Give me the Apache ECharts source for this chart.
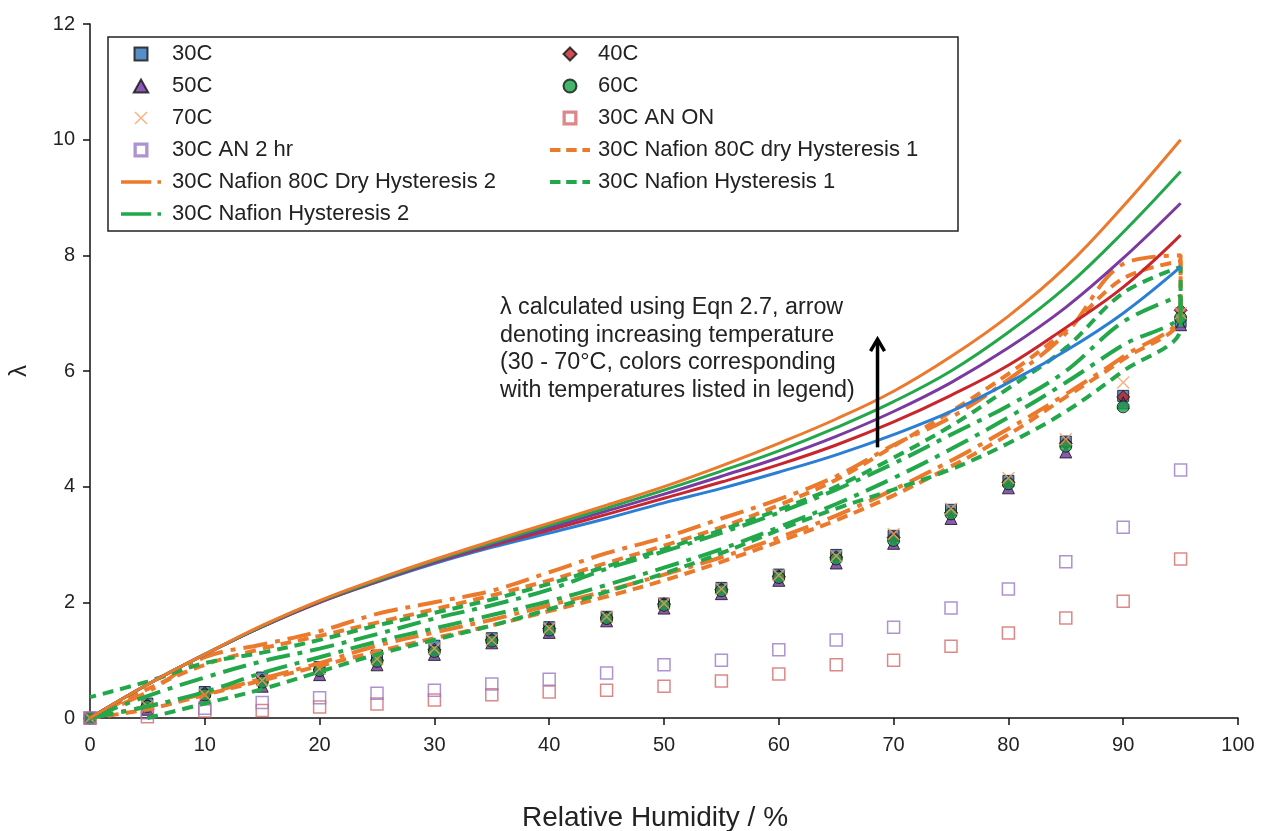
<!DOCTYPE html>
<html><head><meta charset="utf-8">
<script src="https://cdn.jsdelivr.net/npm/echarts@6/dist/echarts.min.js"></script>
<style>html,body{margin:0;padding:0;background:#fff}#c{width:1261px;height:831px}</style>
</head><body><div id="c"></div>
<script>
// ---------- data ----------
const RH = [0,5,10,15,20,25,30,35,40,45,50,55,60,65,70,75,80,85,90,95];
const T30C = [0,0.25,0.45,0.70,0.88,1.08,1.25,1.38,1.57,1.75,1.98,2.25,2.48,2.82,3.15,3.60,4.10,4.78,5.57,6.85];
const T40C = [0,0.22,0.43,0.65,0.83,1.00,1.18,1.35,1.55,1.73,1.97,2.22,2.45,2.78,3.12,3.55,4.07,4.75,5.55,7.05];
const T50C = [0,0.15,0.35,0.55,0.75,0.92,1.10,1.30,1.48,1.68,1.90,2.15,2.38,2.68,3.02,3.45,3.98,4.60,5.45,6.80];
const T60C = [0,0.20,0.40,0.62,0.82,0.98,1.15,1.33,1.52,1.72,1.95,2.20,2.43,2.75,3.07,3.53,4.05,4.70,5.38,6.92];
const T70C = [0,0.20,0.40,0.65,0.85,1.02,1.20,1.35,1.55,1.75,1.98,2.23,2.47,2.80,3.18,3.62,4.15,4.82,5.80,7.00];
const AN_ON = [0,0.02,0.12,0.13,0.19,0.24,0.31,0.40,0.45,0.48,0.55,0.64,0.76,0.92,1.00,1.24,1.47,1.73,2.02,2.75];
const AN_2HR = [0,0.09,0.17,0.27,0.35,0.43,0.48,0.59,0.67,0.78,0.92,1.00,1.18,1.35,1.57,1.90,2.23,2.70,3.30,4.29];

// Eqn 2.7 curves (30,40,50,60,70 C)
const EQ30 = [0,0.58,1.10,1.58,2.00,2.35,2.67,2.95,3.20,3.45,3.72,3.97,4.25,4.55,4.90,5.30,5.80,6.35,7.00,7.80];
const EQ40 = [0,0.58,1.10,1.58,2.00,2.36,2.69,2.98,3.25,3.52,3.80,4.08,4.38,4.72,5.12,5.58,6.10,6.75,7.45,8.35];
const EQ50 = [0,0.58,1.10,1.58,2.01,2.37,2.70,3.00,3.29,3.58,3.87,4.18,4.50,4.87,5.30,5.80,6.40,7.10,7.95,8.90];
const EQ60 = [0,0.58,1.10,1.59,2.02,2.38,2.72,3.03,3.33,3.63,3.94,4.27,4.62,5.02,5.47,6.00,6.67,7.45,8.40,9.45];
const EQ70 = [0,0.58,1.10,1.60,2.03,2.40,2.74,3.06,3.37,3.68,4.00,4.36,4.75,5.17,5.65,6.25,6.95,7.80,8.85,10.00];

// Hysteresis loops: sorption (RH up) then desorption (RH down)
const RH_DES = [95,90,85,80,75,70,65,60,55,50,45,40,35,30,25,20,15,10,5,0];
const OH1_SORP = [0,0.15,0.40,0.65,0.90,1.15,1.38,1.60,1.85,2.10,2.38,2.70,3.05,3.42,3.85,4.35,4.90,5.55,6.20,6.95];
const OH1_DES  = [7.90,7.60,6.70,5.95,5.30,4.70,4.12,3.68,3.30,2.98,2.68,2.38,2.12,1.88,1.65,1.42,1.20,0.92,0.50,0];
const OH2_SORP = [0,0.20,0.42,0.68,0.95,1.25,1.48,1.70,1.95,2.20,2.48,2.78,3.12,3.50,3.95,4.45,5.00,5.60,6.25,7.00];
const OH2_DES  = [8.00,7.85,6.65,5.85,5.20,4.72,4.18,3.78,3.45,3.12,2.85,2.52,2.20,2.00,1.80,1.50,1.27,1.05,0.45,0];
const GH1_SORP = [null,0,0.25,0.50,0.80,1.10,1.35,1.60,1.88,2.18,2.50,2.85,3.25,3.62,3.95,4.30,4.75,5.30,6.00,6.75];
const GH1_DES  = [7.80,7.35,6.40,5.70,5.05,4.50,4.00,3.60,3.25,2.92,2.62,2.32,2.05,1.82,1.60,1.35,1.13,0.95,0.63,0.36];
const GH2_SORP = [0,0.20,0.45,0.78,1.05,1.32,1.55,1.78,2.02,2.30,2.60,2.92,3.30,3.70,4.15,4.65,5.20,5.80,6.45,7.00];
const GH2_DES  = [7.30,6.85,6.00,5.40,4.90,4.40,3.95,3.55,3.20,2.88,2.58,2.22,1.95,1.72,1.45,1.20,0.98,0.70,0.38,0];

const X_TICKS = [0,10,20,30,40,50,60,70,80,90,100];
const Y_TICKS = [0,2,4,6,8,10,12];

const LEGEND_LEFT = ['30C','50C','70C','30C AN 2 hr','30C Nafion 80C Dry Hysteresis 2','30C Nafion Hysteresis 2'];
const LEGEND_RIGHT = ['40C','60C','30C AN ON','30C Nafion 80C dry Hysteresis 1','30C Nafion Hysteresis 1'];
const NOTE = ['λ calculated using Eqn 2.7, arrow','denoting increasing temperature',
  '(30 - 70°C, colors corresponding','with temperatures listed in legend)'];

// ---------- helpers ----------
const pts = (xs, ys) => xs.map((x,i)=>[x, ys[i]]).filter(p=>p[1]!==null);
const loop = (s, d) => pts(RH, s).concat(pts(RH_DES, d));
const FONT = 'Liberation Sans, Arial, sans-serif';

const C = {blue:'#2a7fd4', red:'#c9252d', purple:'#7b3aa0', green:'#22a84a', orange:'#ec7a2c'};

function scatter(name, data, symbol, size, fill, border, bw){
  return {name, type:'scatter', data, symbol, symbolSize:size,
    itemStyle:{color:fill, borderColor:border, borderWidth:bw}, z:3};
}
function dashed(name, data, color, dash){
  return {name, type:'line', data, smooth:0.35, symbol:'none', showSymbol:false,
    lineStyle:{color, width:4, type:dash, cap:'butt'}, itemStyle:{color}, z:4};
}
function solid(name, ys, color){
  return {name, type:'line', data:pts(RH, ys), smooth:0.4, symbol:'none', showSymbol:false,
    lineStyle:{color, width:3}, itemStyle:{color}, z:5};
}
const X_SYMBOL = 'path://M0,0.8 L0.8,0 L5,4.2 L9.2,0 L10,0.8 L5.8,5 L10,9.2 L9.2,10 L5,5.8 L0.8,10 L0,9.2 L4.2,5 Z';
const SQ = 'path://M0,0H10V10H0Z';
const SQ_HOLLOW = 'path://M0,0H10V10H0Z M1,1V9H9V1Z';
const DIA = 'path://M5,0L10,5L5,10L0,5Z';
const TRI = 'path://M5,0L10,9H0Z';
const SHORT = [11,7];
const LONGDOT = [24,8,5,8];
const ICON_SHORT = 'path://M0,0h11v4h-11z M17,0h11v4h-11z M34,0h8v4h-8z';
const ICON_LONGDOT = 'path://M0,0h34v4h-34z M41,0h4v4h-4z';
const ICONS = {'30C':SQ,'40C':DIA,'50C':TRI,'60C':'circle','70C':X_SYMBOL,'30C AN ON':SQ_HOLLOW,'30C AN 2 hr':SQ_HOLLOW,
  '30C Nafion 80C dry Hysteresis 1':ICON_SHORT,'30C Nafion 80C Dry Hysteresis 2':ICON_LONGDOT,
  '30C Nafion Hysteresis 1':ICON_SHORT,'30C Nafion Hysteresis 2':ICON_LONGDOT};

function legendCol(names, left, pad){
  return {data:names.map(n=>({name:n, icon:ICONS[n]})), left, top:43, orient:'vertical', padding:0,
    itemWidth:40, itemHeight:13, itemGap:10, symbolKeepAspect:true, selectedMode:false,
    textStyle:{fontSize:22, color:'#222', fontFamily:FONT, lineHeight:22, padding:[0,0,0,pad]}};
}

const chart = echarts.init(document.getElementById('c'), null, {renderer:'canvas'});
const option = {
  animation:false,
  backgroundColor:'#fff',
  textStyle:{fontFamily:FONT},
  grid:{left:90, right:23, top:24, bottom:113, containLabel:false, outerBoundsMode:'none'},
  xAxis:{type:'value', min:0, max:100, interval:10,
    name:'Relative Humidity / %', nameLocation:'middle', nameGap:86,
    nameTextStyle:{fontSize:28, color:'#222', fontFamily:FONT, padding:[0,18,0,0]},
    axisLine:{onZero:false, lineStyle:{color:'#111', width:1.5}},
    axisTick:{show:true, length:7, lineStyle:{color:'#111', width:1.5}},
    axisLabel:{fontSize:20, color:'#222', margin:17, fontFamily:FONT,
      formatter:v=>X_TICKS.includes(v)?String(v):''},
    splitLine:{show:false}},
  yAxis:{type:'value', min:0, max:12, interval:2,
    name:'λ', nameLocation:'middle', nameGap:59, nameRotate:90,
    nameTextStyle:{fontSize:24, color:'#222', fontFamily:FONT},
    axisLine:{show:true, lineStyle:{color:'#111', width:1.5}},
    axisTick:{show:true, length:7, lineStyle:{color:'#111', width:1.5}},
    axisLabel:{fontSize:20, color:'#222', margin:15, fontFamily:FONT,
      formatter:v=>Y_TICKS.includes(v)?String(v):''},
    splitLine:{show:false}},
  legend:[legendCol(LEGEND_LEFT, 121, 6), legendCol(LEGEND_RIGHT, 550, 3)],
  series:[
    scatter('30C', pts(RH,T30C), 'rect', 11, '#2e72b8', '#111', 1),
    scatter('40C', pts(RH,T40C), 'diamond', 13, '#c0232b', '#111', 1),
    scatter('50C', pts(RH,T50C), 'triangle', 12, '#6f2f9f', '#111', 1),
    scatter('60C', pts(RH,T60C), 'circle', 12, '#16a34a', '#111', 1),
    scatter('70C', pts(RH,T70C), X_SYMBOL, 13, '#f3a063', '#f3a063', 0),
    scatter('30C AN ON', pts(RH,AN_ON), 'rect', 12, 'rgba(255,255,255,0)', '#d46a6a', 1.5),
    scatter('30C AN 2 hr', pts(RH,AN_2HR), 'rect', 12, 'rgba(255,255,255,0)', '#9a78c4', 1.5),
    dashed('30C Nafion 80C dry Hysteresis 1', loop(OH1_SORP, OH1_DES), C.orange, SHORT),
    dashed('30C Nafion 80C Dry Hysteresis 2', loop(OH2_SORP, OH2_DES), C.orange, LONGDOT),
    dashed('30C Nafion Hysteresis 1', loop(GH1_SORP, GH1_DES), C.green, SHORT),
    dashed('30C Nafion Hysteresis 2', loop(GH2_SORP, GH2_DES), C.green, LONGDOT),
    solid('Eqn 2.7 30C', EQ30, C.blue),
    solid('Eqn 2.7 40C', EQ40, C.red),
    solid('Eqn 2.7 50C', EQ50, C.purple),
    solid('Eqn 2.7 60C', EQ60, C.green),
    solid('Eqn 2.7 70C', EQ70, C.orange)
  ]
};
chart.setOption(option);

// annotation: legend frame, note text, arrow (arrow anchored in data coords)
const a0 = chart.convertToPixel({gridIndex:0}, [68.6, 4.68]);
const a1 = chart.convertToPixel({gridIndex:0}, [68.6, 6.55]);
chart.setOption({graphic:[
  {type:'rect', shape:{x:108, y:37, width:850, height:194}, style:{fill:'none', stroke:'#222', lineWidth:1.5}, z:1},
  {type:'text', left:500, top:294, style:{text:NOTE.join('\n'), font:'23.3px '+FONT, lineHeight:27.5, fill:'#222'}, z:10},
  {type:'line', shape:{x1:a0[0], y1:a0[1], x2:a1[0], y2:a1[1]+2}, style:{stroke:'#000', lineWidth:3.5}, z:10},
  {type:'polyline', shape:{points:[[a1[0]-7, a1[1]+12],[a1[0], a1[1]],[a1[0]+7, a1[1]+12]]}, style:{stroke:'#000', lineWidth:3.5, fill:'none'}, z:10}
]});
</script>
</body></html>
